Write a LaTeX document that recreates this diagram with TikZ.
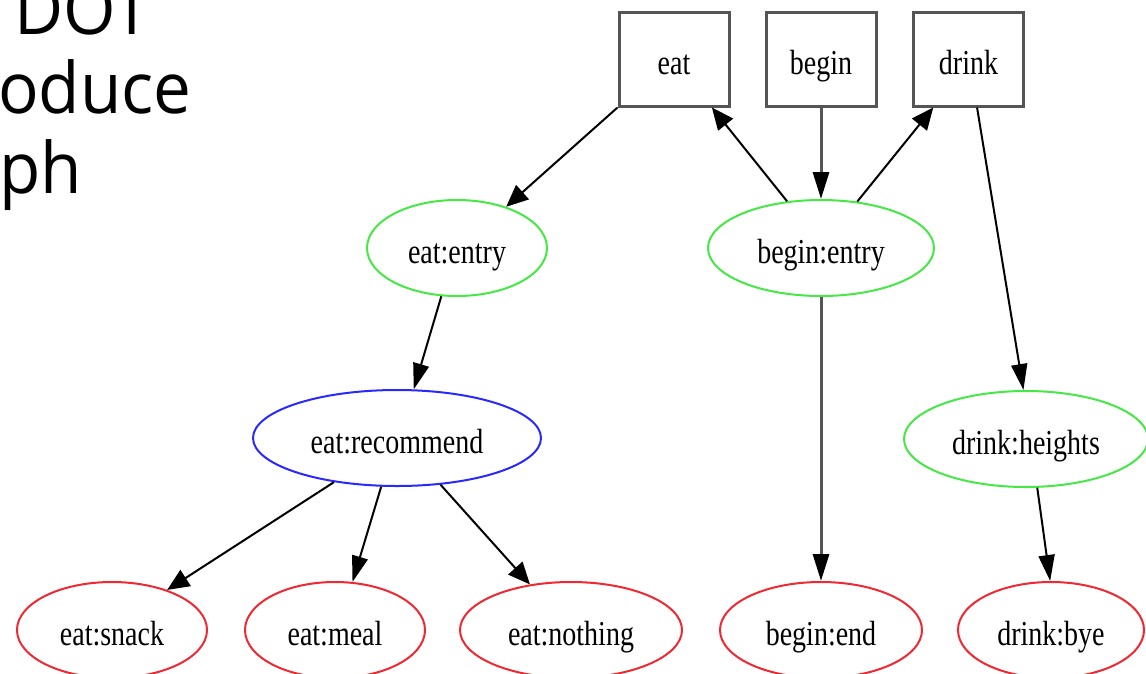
\documentclass[tikz,border=0pt]{standalone}
\usepackage{fontspec}
\usetikzlibrary{shapes.geometric,arrows.meta}
\newfontfamily\graphfont[FakeStretch=0.8]{Liberation Serif}
\newfontfamily\slidefont[FakeStretch=0.95]{Open Sans}
\definecolor{boxgray}{RGB}{85,85,85}
\definecolor{entrygreen}{RGB}{70,232,70}
\definecolor{midblue}{RGB}{40,40,255}
\definecolor{leafred}{RGB}{240,40,50}
\tikzset{
  gtext/.style={font=\graphfont\fontsize{35}{40}\selectfont, text height=32pt, text depth=2pt, inner sep=0pt},
  box/.style={gtext, rectangle, draw=boxgray, line width=3pt, minimum width=110pt, minimum height=94pt},
  oval/.style={gtext, ellipse, line width=2pt, minimum height=96pt},
  entry/.style={oval, draw=entrygreen},
  branch/.style={oval, draw=midblue},
  leaf/.style={oval, draw=leafred},
  % steep connectors get a long narrow head, slanted ones a shorter wider head
  edge/.style={line width=2pt, -{Triangle[length=26pt,width=16pt]}},
  slant/.style={line width=2pt, -{Triangle[length=22pt,width=19pt]}},
  grayedge/.style={line width=3pt, draw=boxgray, -{Triangle[length=27pt,width=16pt,color=black]}},
  slide/.style={font=\slidefont\fontsize{71}{80}\selectfont, anchor=base west, inner sep=0pt}
}
\begin{document}
\begin{tikzpicture}[x=1pt,y=-1pt]
\useasboundingbox (0,0) rectangle (1146,673);
\clip (0,0) rectangle (1146,673);

% slide text on the left
\node[slide] (l1) at (14,34) {DOT};
\node[slide] (l2) at (-2,113) {oduce};
\node[slide] (l3) at (-1,193) {ph};

% top row: boxes
\node[box] (eat)   at (674,59) {eat};
\node[box] (begin) at (821,59) {begin};
\node[box] (drink) at (968.5,59) {drink};

% entries
\node[entry, minimum width=180pt] (eatentry)   at (457,248) {eat:entry};
\node[entry, minimum width=226pt] (beginentry) at (821,248) {begin:entry};
\node[entry, minimum width=244pt] (drinkh)     at (1026,439) {drink:heights};

% recommend
\node[branch, minimum width=288pt] (eatrec) at (397,438) {eat:recommend};

% leaves
\node[leaf, minimum width=190pt] (snack)    at (112,630) {eat:snack};
\node[leaf, minimum width=180pt] (meal)     at (335,630) {eat:meal};
\node[leaf, minimum width=222pt] (nothing)  at (571,630) {eat:nothing};
\node[leaf, minimum width=202pt] (beginend) at (821,630) {begin:end};
\node[leaf, minimum width=186pt] (bye)      at (1051,630) {drink:bye};

% connectors
\draw[slant] (eat.south west) -- (eatentry.40.5);
\draw[slant] (beginentry.126.5) -- (eat.-52.6);
\draw[grayedge] (begin.south) -- (beginentry.north);
\draw[slant] (beginentry.52.7) -- (drink.-126.5);
\draw[edge] (drink.-80.9) -- (drinkh.93.5);
\draw[edge] (eatentry.-108) -- (eatrec.71.6);
\draw[grayedge] (beginentry.south) -- (beginend.north);
\draw[slant] (eatrec.215.1) -- (snack.36);
\draw[edge] (eatrec.252) -- (meal.70.3);
\draw[slant] (eatrec.-47.5) -- (nothing.132.2);
\draw[edge] (drinkh.-77) -- (bye.91);
\end{tikzpicture}
\end{document}
